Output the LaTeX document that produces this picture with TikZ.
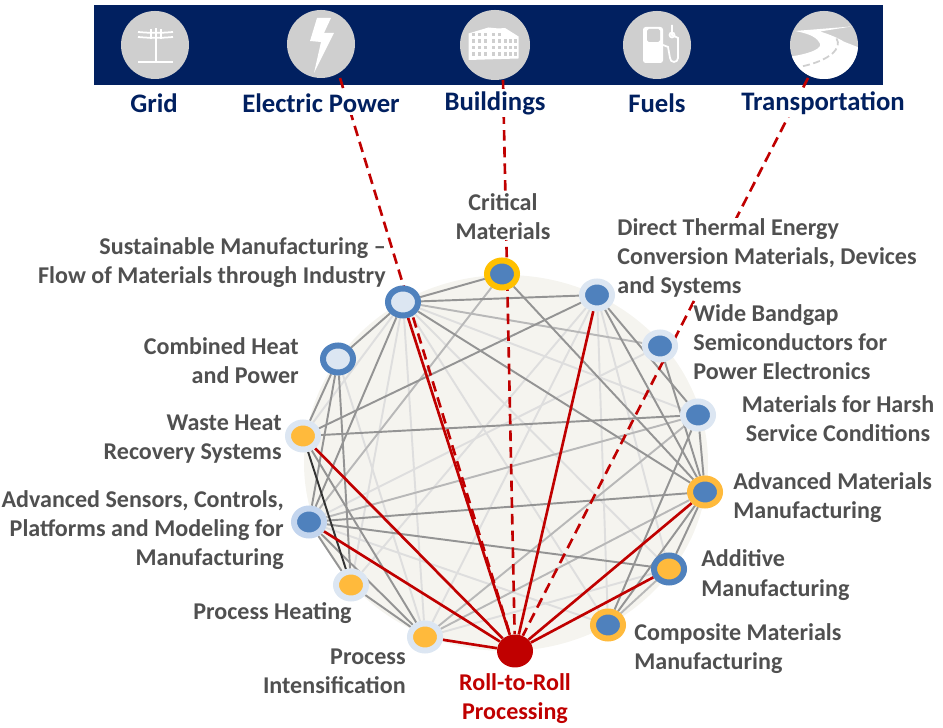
\documentclass[tikz,border=0pt]{standalone}
\usepackage{fontspec}
\setmainfont{Carlito}
\usepackage{tikz}
\usetikzlibrary{backgrounds,shapes.geometric}

\definecolor{navy}{HTML}{012060}
\definecolor{iconback}{HTML}{CFCFCF}
\definecolor{discback}{HTML}{F5F4EF}
\definecolor{ringblue}{HTML}{4F81BD}
\definecolor{palefill}{HTML}{DCE6F2}
\definecolor{sensring}{HTML}{C3D5EE}
\definecolor{amber}{HTML}{FFBA3C}
\definecolor{goldring}{HTML}{FFC000}
\definecolor{rollred}{HTML}{C00000}
\definecolor{labelgray}{HTML}{505050}

\tikzset{
	topic/.style 2 args={ellipse,draw=#1,fill=#2,line width=.12cm,minimum width=.6cm,minimum height=.54cm,inner sep=0pt},
	icon/.style={circle,fill=iconback,minimum size=1.36cm,inner sep=0pt},
	toplabel/.style={font=\fontsize{15.2}{18}\selectfont\bfseries,text=navy,fill=white,inner sep=1.5pt},
	lab/.style={font=\fontsize{13.7}{16.6}\selectfont\bfseries,text=labelgray,inner sep=0pt},
	linkpale/.style={draw=black!13,line width=1.1pt},
	linkmid/.style={draw=black!28,line width=1.1pt},
	linkdark/.style={draw=black!42,line width=1.1pt},
	linkred/.style={draw=rollred,line width=1.5pt},
	linkdash/.style={draw=rollred,line width=1.5pt,dash pattern=on 6pt off 3.5pt},
}

\begin{document}
\begin{tikzpicture}
	\useasboundingbox (0,0) rectangle (18.86,14.56);
	
	%topic nodes
	\node[topic={goldring}{ringblue}] (crit) at (10.04,9.08) {};
	\node[topic={ringblue}{palefill}] (sust) at (8.06,8.52) {};
	\node[topic={ringblue}{palefill}] (chp) at (6.76,7.38) {};
	\node[topic={palefill}{amber}] (waste) at (6.06,5.84) {};
	\node[topic={sensring}{ringblue}] (sens) at (6.18,4.12) {};
	\node[topic={palefill}{amber}] (heat) at (7.02,2.86) {};
	\node[topic={palefill}{amber}] (inten) at (8.50,1.82) {};
	\node[topic={amber}{ringblue}] (comp) at (12.16,2.06) {};
	\node[topic={ringblue}{amber}] (addi) at (13.38,3.18) {};
	\node[topic={amber}{ringblue}] (advm) at (14.10,4.72) {};
	\node[topic={palefill}{ringblue}] (hars) at (13.96,6.26) {};
	\node[topic={palefill}{ringblue}] (wbg) at (13.20,7.64) {};
	\node[topic={palefill}{ringblue}] (dte) at (11.94,8.66) {};
	\node[ellipse,fill=rollred,minimum width=.72cm,minimum height=.66cm,inner sep=0pt] (roll) at (10.30,1.54) {};
	
	%upper icons
	\node[icon] (gridicon) at (3.10,13.66) {};
	\node[icon] (powericon) at (6.42,13.68) {};
	\node[icon,minimum size=1.4cm] (bldgicon) at (9.90,13.66) {};
	\node[icon] (fuelicon) at (13.14,13.66) {};
	\node[icon] (roadicon) at (16.48,13.66) {};
	
	%free ends of the dashed lines
	\coordinate (powerend) at (6.80,13.0);
	\coordinate (bldgend) at (10.06,12.96);
	\coordinate (roadend) at (16.16,13.0);
	
	\begin{scope}[on background layer]
		\fill[discback] (10.12,5.30) ellipse (4.04cm and 3.76cm);
		\fill[navy] (1.88,14.46) rectangle (17.66,12.86);
		
		%pale links
		\foreach \a/\b in {sust/waste,sust/heat,sust/inten,sust/comp,sust/addi,sust/hars,chp/inten,
			dte/heat,dte/inten,dte/comp,dte/addi,wbg/sens,sens/comp,addi/inten}
			\draw[linkpale] (\a)--(\b);
		%middle links
		\foreach \a/\b in {sust/wbg,crit/sens,hars/sens,hars/inten,advm/inten,addi/comp}
			\draw[linkmid] (\a)--(\b);
		%dark links
		\foreach \a/\b in {sust/crit,sust/dte,sust/chp,sust/advm,sust/sens,chp/waste,chp/sens,chp/heat,
			waste/dte,waste/hars,waste/inten,crit/advm,dte/advm,dte/hars,wbg/advm,
			hars/comp,hars/advm,advm/sens,advm/comp,advm/addi,addi/sens,sens/heat,sens/inten,heat/inten}
			\draw[linkdark] (\a)--(\b);
		\draw[line width=1.1pt,black!80] (waste)--(heat);
		
		%red links
		\foreach \a in {sust,dte,waste,sens,inten,advm,addi}
			\draw[linkred] (\a)--(roll);
		\draw[linkdash] (powerend)--(roll);
		\draw[linkdash] (bldgend)--(roll);
		\draw[linkdash] (roadend)--(roll);
	\end{scope}
	
	%grid icon
	\draw[white,line width=1pt] (3.12,14.0)--(3.12,13.32);
	\draw[white,line width=1pt] (2.76,13.32)--(3.46,13.32);
	\draw[white,line width=1pt] (2.76,13.92) to[bend right=5] (3.46,13.92);
	\draw[white,line width=1pt] (2.76,13.82) to[bend right=5] (3.46,13.82);
	\draw[white,line width=.7pt] (3.02,13.98)--(3.02,13.78);
	\draw[white,line width=.7pt] (3.22,13.98)--(3.22,13.78);
	
	%bolt icon
	\fill[white] (6.34,14.20)--(6.62,14.20)--(6.48,13.90)--(6.68,13.90)--(6.28,13.10)--(6.42,13.72)--(6.20,13.74)--cycle;
	
	%building icon
	\fill[white] (9.37,13.89)--(9.77,14.01)--(9.97,13.99)--(10.1,14.0)--(10.37,13.83)--(10.37,13.39)--(9.37,13.36)--cycle;
	\foreach \x in {9.43,9.55,9.67,9.83,9.95,10.07,10.17,10.27}
		\foreach \y in {13.44,13.57,13.70}
			\fill[iconback] (\x,\y) rectangle +(.06,.07);
	\foreach \x in {9.43,9.55,9.67,9.83,9.95}
		\fill[iconback] (\x,13.83) rectangle +(.06,.07);
	
	%fuel icon
	\fill[white,rounded corners=1.5pt] (12.86,14.02) rectangle (13.26,13.30);
	\fill[iconback,rounded corners=1pt] (12.94,13.98) rectangle (13.20,13.72);
	\draw[white,line width=1pt] (13.26,13.66)--(13.36,13.62)--(13.40,13.40) arc (180:360:.08) --(13.56,13.80)--(13.44,13.86)--(13.44,14.06);
	\draw[white,line width=1pt] (13.44,13.86) circle (.05);
	
	%road icon
	\begin{scope}
		\clip (roadicon.center) circle (.68);
		\fill[white] (15.75,13.42) .. controls (16.2,13.48) and (16.5,13.6) .. (16.38,13.72) .. controls (16.3,13.85) and (16.1,13.9) .. (15.9,13.94)
			--(17.03,14.03)--(16.4,13.93) .. controls (16.6,13.87) and (16.8,13.78) .. (16.87,13.73)--(17.2,13.6)--(17.3,12.9)--(15.75,12.9)--cycle;
		\draw[iconback,line width=1pt,dash pattern=on 4pt off 2pt] (16.73,13.79) .. controls (16.85,13.6) and (16.6,13.35) .. (16.03,13.23);
	\end{scope}
	
	%upper captions
	\node[toplabel] (gridlabel) at (3.08,12.50) {Grid};
	\node[toplabel] (powerlabel) at (6.42,12.50) {Electric Power};
	\node[toplabel] (bldglabel) at (9.90,12.50) {Buildings};
	\node[toplabel] (fuellabel) at (13.14,12.50) {Fuels};
	\node[toplabel] (roadlabel) at (16.46,12.50) {Transportation};
	
	%right captions
	\node[lab,fill=white,align=center] (critlabel) at (10.06,10.22) {Critical\\Materials};
	\node[lab,fill=white,align=left,anchor=west] (dtelabel) at (12.34,9.40) {Direct Thermal Energy\\Conversion Materials, Devices\\and Systems};
	\node[lab,fill=white,align=left,anchor=west] (wbglabel) at (13.86,7.72) {Wide Bandgap\\Semiconductors for\\Power Electronics};
	\node[lab,align=center] (harslabel) at (16.76,6.18) {Materials for Harsh\\Service Conditions};
	\node[lab,align=left,anchor=west] (advmlabel) at (14.66,4.60) {Advanced Materials\\Manufacturing};
	\node[lab,align=left,anchor=west] (addilabel) at (14.02,3.06) {Additive\\Manufacturing};
	\node[lab,align=left,anchor=west] (complabel) at (12.68,1.58) {Composite Materials\\Manufacturing};
	
	%lower captions
	\node[lab,text=rollred,align=center] (rolllabel) at (10.30,0.58) {Roll-to-Roll\\Processing};
	\node[lab,align=right,anchor=east] (intenlabel) at (8.12,1.14) {Process\\Intensification};
	\node[lab,anchor=east] (heatlabel) at (7.04,2.30) {Process Heating};
	
	%left captions
	\node[lab,align=right,anchor=east] (senslabel) at (5.68,3.96) {Advanced Sensors, Controls,\\Platforms and Modeling for\\Manufacturing};
	\node[lab,align=right,anchor=east] (wastelabel) at (5.64,5.78) {Waste Heat\\Recovery Systems};
	\node[lab,align=right,anchor=east] (chplabel) at (5.98,7.34) {Combined Heat\\and Power};
	\node[lab,align=right,anchor=east] (sustlabel) at (7.72,9.30) {Sustainable Manufacturing --\\Flow of Materials through Industry};
	
\end{tikzpicture}
\end{document}
